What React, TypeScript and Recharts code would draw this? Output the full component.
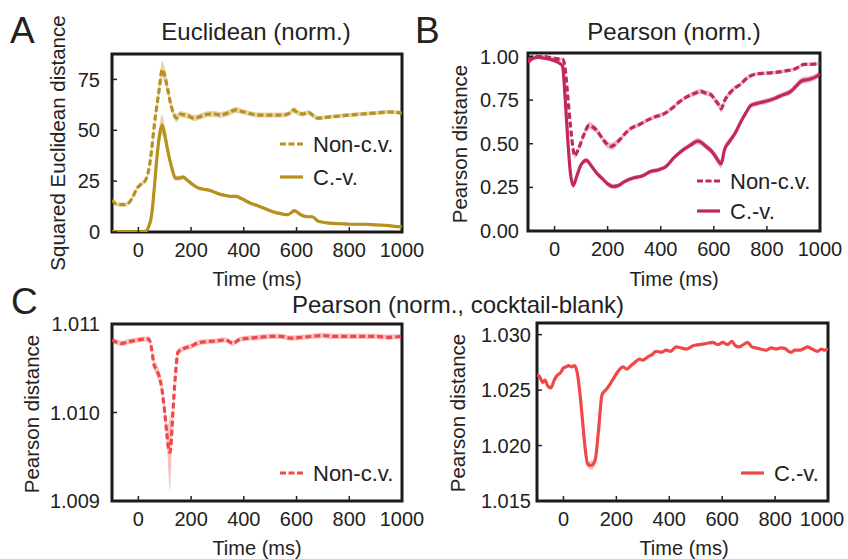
import { ComposedChart, Line, Area, XAxis, YAxis, ReferenceArea } from 'recharts';

const FONT = '"Liberation Sans", Arial, Helvetica, sans-serif';
const INK = '#222';

const GOLD = '#B8901E';
const GOLD_BAND = 'rgba(205,175,95,0.55)';
const CRIMSON = '#C3285A';
const CRIMSON_BAND = 'rgba(215,110,145,0.5)';
const RED = '#F04848';
const RED_BAND = 'rgba(245,140,140,0.55)';

const X_TICKS = [0, 200, 400, 600, 800, 1000];

// A: Euclidean, non-cross-validated
const A_NCV_T = [-100, -85, -70, -50, -35, -20, -5, 10, 25, 40, 50, 60, 70, 80, 90, 100, 110, 120, 130, 145, 160, 175, 190, 210, 230, 250, 270, 290, 310, 340, 370, 400, 430, 460, 490, 520, 550, 575, 590, 605, 625, 645, 665, 680, 720, 760, 800, 850, 900, 950, 1000];
const A_NCV_V = [15.7, 13.8, 13.5, 13.5, 14.5, 17.5, 21.5, 23.5, 25, 31, 40, 52, 62, 71, 80, 77, 71, 64.5, 59.5, 56, 58, 57.5, 57, 56, 56.5, 57.5, 58, 58, 57.5, 58.5, 60, 59, 58, 57.5, 57.5, 57.5, 57.5, 58.5, 60, 58.5, 58, 58.8, 57, 56, 56.5, 57, 57.5, 58, 58.5, 59, 58.5];
const A_NCV_E = [1, 1, 1, 1, 1, 1, 1, 1, 1, 1.5, 2, 2.5, 3, 3.5, 4, 3.5, 3, 2.5, 2, 2, 1.5, 1.5, 1.5, 1.5, 1.5, 1.5, 1.5, 1.5, 1.5, 1.5, 1.5, 1.2, 1.2, 1.2, 1.2, 1.2, 1.2, 1.2, 1.5, 1.2, 1.2, 1.2, 1.2, 1, 1, 1, 1, 1, 1, 1, 1];

// A: Euclidean, cross-validated
const A_CV_T = [-100, -50, 0, 30, 40, 50, 60, 70, 80, 90, 100, 110, 120, 130, 140, 155, 170, 185, 200, 215, 230, 250, 270, 290, 310, 330, 350, 370, 390, 420, 450, 480, 510, 540, 565, 580, 590, 600, 615, 640, 660, 680, 700, 740, 780, 820, 860, 900, 940, 970, 1000];
const A_CV_V = [0.2, 0.2, 0.2, 0.5, 3, 8, 21, 36, 47.5, 52.5, 48, 41, 35, 30, 26.5, 26.5, 27, 25.5, 24, 22.5, 21.5, 21, 20.5, 19.5, 18.5, 18, 17.5, 17.5, 16.5, 14.5, 13, 11.5, 10, 9, 8.5, 9.5, 10.5, 10, 8.5, 7.5, 7.5, 5.5, 4.8, 4.2, 4, 3.8, 3.8, 3.5, 3.3, 2.8, 2.5];
const A_CV_E = [0.2, 0.2, 0.2, 0.3, 0.8, 1.5, 2.5, 3.5, 4.5, 5, 4, 3, 2, 1.5, 1.2, 1.2, 1.2, 1, 1, 0.8, 0.8, 0.8, 0.8, 0.8, 0.8, 0.8, 0.8, 0.8, 0.8, 0.8, 0.8, 0.8, 0.8, 0.8, 0.8, 0.8, 0.8, 0.8, 0.8, 0.8, 0.6, 0.6, 0.6, 0.6, 0.6, 0.6, 0.6, 0.6, 0.6, 0.6, 0.6];

// B: Pearson, non-cross-validated
const B_NCV_T = [-100, -80, -60, -40, -20, 0, 20, 30, 40, 50, 60, 70, 75, 90, 110, 130, 145, 160, 180, 200, 215, 230, 250, 270, 290, 320, 350, 380, 410, 440, 470, 500, 530, 550, 570, 590, 605, 620, 628, 640, 660, 680, 700, 720, 740, 760, 800, 840, 880, 900, 920, 940, 970, 1000];
const B_NCV_V = [0.98, 1.0, 1.0, 1.0, 0.995, 0.99, 0.985, 0.985, 0.93, 0.77, 0.6, 0.47, 0.43, 0.47, 0.55, 0.605, 0.595, 0.575, 0.53, 0.495, 0.485, 0.5, 0.53, 0.565, 0.59, 0.61, 0.635, 0.655, 0.67, 0.7, 0.74, 0.77, 0.79, 0.8, 0.79, 0.78, 0.75, 0.72, 0.7, 0.745, 0.79, 0.82, 0.84, 0.87, 0.89, 0.9, 0.905, 0.91, 0.92, 0.925, 0.94, 0.955, 0.955, 0.962];
const B_NCV_E = [0.008, 0.008, 0.008, 0.008, 0.008, 0.008, 0.008, 0.008, 0.01, 0.012, 0.015, 0.015, 0.015, 0.015, 0.018, 0.02, 0.02, 0.018, 0.018, 0.02, 0.02, 0.018, 0.015, 0.012, 0.012, 0.012, 0.012, 0.012, 0.012, 0.012, 0.012, 0.012, 0.015, 0.015, 0.015, 0.015, 0.018, 0.02, 0.02, 0.018, 0.015, 0.012, 0.012, 0.012, 0.012, 0.01, 0.01, 0.01, 0.01, 0.01, 0.01, 0.01, 0.01, 0.01];

// B: Pearson, cross-validated
const B_CV_T = [-100, -80, -60, -40, -20, 0, 20, 30, 40, 50, 60, 70, 85, 100, 120, 140, 160, 180, 200, 220, 240, 260, 280, 300, 330, 360, 390, 420, 450, 480, 510, 540, 555, 570, 590, 605, 620, 628, 640, 660, 680, 700, 720, 740, 760, 800, 830, 860, 890, 910, 930, 960, 980, 1000];
const B_CV_V = [0.965, 0.99, 0.995, 0.99, 0.985, 0.975, 0.96, 0.945, 0.76, 0.52, 0.33, 0.26, 0.32, 0.38, 0.405, 0.37, 0.33, 0.3, 0.27, 0.255, 0.26, 0.28, 0.295, 0.305, 0.315, 0.34, 0.35, 0.37, 0.42, 0.46, 0.49, 0.515, 0.505, 0.485, 0.46, 0.43, 0.395, 0.385, 0.465, 0.515, 0.56, 0.62, 0.675, 0.72, 0.73, 0.745, 0.76, 0.78, 0.8, 0.83, 0.86, 0.87, 0.88, 0.9];
const B_CV_E = [0.008, 0.008, 0.008, 0.008, 0.008, 0.008, 0.008, 0.01, 0.015, 0.015, 0.015, 0.015, 0.015, 0.015, 0.015, 0.015, 0.012, 0.012, 0.015, 0.015, 0.012, 0.012, 0.012, 0.012, 0.012, 0.012, 0.012, 0.012, 0.012, 0.015, 0.015, 0.018, 0.018, 0.018, 0.02, 0.022, 0.025, 0.025, 0.025, 0.02, 0.018, 0.015, 0.015, 0.015, 0.015, 0.015, 0.015, 0.015, 0.018, 0.018, 0.02, 0.018, 0.018, 0.015];

// C: cocktail-blank, non-cross-validated
const C_NCV_T = [-100, -80, -60, -40, -20, 0, 20, 40, 50, 60, 70, 80, 90, 100, 110, 115, 120, 125, 130, 140, 150, 170, 200, 230, 260, 300, 330, 360, 380, 420, 460, 500, 540, 580, 620, 660, 700, 740, 780, 820, 860, 900, 950, 1000];
const C_NCV_V = [1.01082, 1.01079, 1.01078, 1.0108, 1.01081, 1.01082, 1.01083, 1.01083, 1.01072, 1.01053, 1.01048, 1.0104, 1.01025, 1.01, 1.0097, 1.00958, 1.00955, 1.00968, 1.00995, 1.0104, 1.01068, 1.01072, 1.01075, 1.01079, 1.0108, 1.01081, 1.01082, 1.01078, 1.01082, 1.01084, 1.01085, 1.01086, 1.01086, 1.01084, 1.01085, 1.01086, 1.01087, 1.01086, 1.01086, 1.01086, 1.01086, 1.01086, 1.01085, 1.01086];
const C_NCV_E = [0.00003, 0.00003, 0.00003, 0.00003, 0.00003, 0.00003, 0.00003, 0.00003, 0.00004, 0.00005, 0.00007, 0.00006, 0.00006, 0.0001, 0.00015, 0.0003, 0.00045, 0.0002, 0.0001, 0.00006, 0.00004, 0.00003, 0.00003, 0.00003, 0.00003, 0.00003, 0.00003, 0.00003, 0.00003, 0.00003, 0.00003, 0.00003, 0.00003, 0.00003, 0.00003, 0.00003, 0.00003, 0.00003, 0.00003, 0.00003, 0.00003, 0.00003, 0.00003, 0.00003];

// C: cocktail-blank, cross-validated
const C_CV_T = [-100, -90, -78, -70, -60, -47, -35, -25, -10, 0, 10, 20, 30, 41, 50, 60, 70, 80, 92, 104, 115, 121, 133, 146, 160, 175, 193, 210, 224, 240, 255, 270, 287, 300, 319, 335, 350, 370, 388, 405, 426, 445, 464, 490, 514, 540, 564, 585, 602, 620, 637, 650, 665, 680, 696, 712, 728, 745, 766, 785, 804, 822, 841, 850, 860, 875, 892, 905, 923, 940, 961, 975, 986, 1000];
const C_CV_V = [1.0264, 1.0262, 1.0257, 1.0259, 1.0254, 1.0252, 1.0259, 1.0263, 1.0266, 1.027, 1.0271, 1.0272, 1.0271, 1.0272, 1.0268, 1.0252, 1.0228, 1.0202, 1.0183, 1.0182, 1.0184, 1.0188, 1.0215, 1.0246, 1.025, 1.0255, 1.0262, 1.0268, 1.0271, 1.0269, 1.0272, 1.0275, 1.0278, 1.0277, 1.028, 1.0282, 1.0285, 1.0284, 1.0286, 1.0285, 1.0289, 1.0288, 1.0287, 1.029, 1.0291, 1.0292, 1.0293, 1.0291, 1.0293, 1.0291, 1.0294, 1.029, 1.0289, 1.0291, 1.0293, 1.0289, 1.0288, 1.0287, 1.0286, 1.0288, 1.0287, 1.0288, 1.0287, 1.0285, 1.0284, 1.0286, 1.0286, 1.0287, 1.0289, 1.0287, 1.0285, 1.0287, 1.0286, 1.0287];
const C_CV_E = [0.00008, 0.00008, 0.00008, 0.00008, 0.00008, 0.00008, 0.00008, 0.00008, 0.00008, 0.00008, 0.00008, 0.00008, 0.00008, 0.00008, 0.00008, 0.00008, 0.00012, 0.0002, 0.0003, 0.0004, 0.0004, 0.0003, 0.0002, 0.00015, 0.00015, 0.00015, 0.0001, 0.00008, 0.00008, 0.00008, 0.00008, 0.00008, 0.00008, 0.00008, 0.00008, 0.00008, 0.00008, 0.00008, 0.00008, 0.00008, 0.00008, 0.00008, 0.00008, 0.00008, 0.00008, 0.00008, 0.00008, 0.00008, 0.00008, 0.00008, 0.00008, 0.00008, 0.00008, 0.00008, 0.00008, 0.00008, 0.00008, 0.00008, 0.00008, 0.00008, 0.00008, 0.00008, 0.00008, 0.00008, 0.00008, 0.00008, 0.00008, 0.00008, 0.00008, 0.00008, 0.00008, 0.00008, 0.00008, 0.00008];

type Row = { t: number; v: number; band: [number, number] };
const rows = (t: number[], v: number[], e: number[]): Row[] =>
  t.map((x, i) => ({ t: x, v: v[i], band: [v[i] - e[i], v[i] + e[i]] }));

type Series = { name: string; data: Row[]; color: string; band: string; dashed: boolean };

type PanelProps = {
  box: { x: number; y: number; w: number; h: number };
  yDomain: [number, number];
  yTicks: number[];
  yFmt: (v: number) => string;
  yGap: number;
  lastShift?: number;
  series: Series[];
};

function Panel({ box, yDomain, yTicks, yFmt, yGap, lastShift = 0, series }: PanelProps) {
  const ml = 100, mt = 16, mr = 30, mb = 44;
  const tickStyle = { fontSize: 20, fill: INK, fontFamily: FONT };
  // x tick labels; the last one may sit a little left, as in the source figure
  const xTick = (p: any) => {
    const shift = p.payload.value === 1000 ? lastShift : 0;
    return (
      <text x={p.x + shift} y={p.y} dy="0.71em" textAnchor="middle" fontSize={20} fill={INK} fontFamily={FONT}>
        {p.payload.value}
      </text>
    );
  };
  return (
    <div style={{ position: 'absolute', left: box.x - ml, top: box.y - mt }}>
      <ComposedChart width={box.w + ml + mr} height={box.h + mt + mb} margin={{ top: mt, right: mr, left: 0, bottom: 0 }}>
        <XAxis
          type="number"
          dataKey="t"
          domain={[-100, 1000]}
          ticks={X_TICKS}
          allowDataOverflow
          height={mb}
          axisLine={false}
          tickSize={-5}
          tickMargin={16}
          tickLine={{ stroke: INK, strokeWidth: 1.5 }}
          tick={xTick}
          interval={0}
        />
        <YAxis
          type="number"
          domain={yDomain}
          ticks={yTicks}
          allowDataOverflow
          width={ml}
          axisLine={false}
          tickSize={-5}
          tickMargin={yGap + 5}
          tickLine={{ stroke: INK, strokeWidth: 1.5 }}
          tick={tickStyle}
          tickFormatter={yFmt}
          interval={0}
        />
        {series.map((s) => (
          <Area
            key={s.name + '-band'}
            data={s.data}
            dataKey="band"
            type="monotone"
            stroke="none"
            fill={s.band}
            fillOpacity={1}
            isAnimationActive={false}
          />
        ))}
        {series.map((s) => (
          <Line
            key={s.name}
            data={s.data}
            dataKey="v"
            type="monotone"
            stroke={s.color}
            strokeWidth={3.2}
            strokeDasharray={s.dashed ? '6 3' : undefined}
            dot={false}
            isAnimationActive={false}
          />
        ))}
        <ReferenceArea x1={-100} x2={1000} y1={yDomain[0]} y2={yDomain[1]} fill="none" stroke="#1a1a1a" strokeWidth={3} />
      </ComposedChart>
    </div>
  );
}

function LegendItem({ x, y, label, color, dashed }: { x: number; y: number; label: string; color: string; dashed: boolean }) {
  return (
    <g>
      <line x1={x} x2={x + 23} y1={y} y2={y} stroke={color} strokeWidth={3.2} strokeDasharray={dashed ? '6 2.5' : undefined} />
      <text x={x + 33} y={y + 8} fontSize={22} fill={INK}>{label}</text>
    </g>
  );
}

export default function App() {
  const seriesA: Series[] = [
    { name: 'Non-c.v.', data: rows(A_NCV_T, A_NCV_V, A_NCV_E), color: GOLD, band: GOLD_BAND, dashed: true },
    { name: 'C.-v.', data: rows(A_CV_T, A_CV_V, A_CV_E), color: GOLD, band: GOLD_BAND, dashed: false },
  ];
  const seriesB: Series[] = [
    { name: 'Non-c.v.', data: rows(B_NCV_T, B_NCV_V, B_NCV_E), color: CRIMSON, band: CRIMSON_BAND, dashed: true },
    { name: 'C.-v.', data: rows(B_CV_T, B_CV_V, B_CV_E), color: CRIMSON, band: CRIMSON_BAND, dashed: false },
  ];
  const seriesC1: Series[] = [
    { name: 'Non-c.v.', data: rows(C_NCV_T, C_NCV_V, C_NCV_E), color: RED, band: RED_BAND, dashed: true },
  ];
  const seriesC2: Series[] = [
    { name: 'C.-v.', data: rows(C_CV_T, C_CV_V, C_CV_E), color: RED, band: RED_BAND, dashed: false },
  ];

  return (
    <div style={{ position: 'absolute', left: 0, top: 0, width: 848, height: 559, background: '#fff', fontFamily: FONT }}>
      <Panel box={{ x: 112, y: 54, w: 290, h: 178 }} yDomain={[0, 87.5]} yTicks={[0, 25, 50, 75]} yFmt={(v) => String(v)} yGap={12} series={seriesA} />
      <Panel box={{ x: 528, y: 53, w: 292, h: 178 }} yDomain={[0, 1.02]} yTicks={[0, 0.25, 0.5, 0.75, 1.0]} yFmt={(v) => v.toFixed(2)} yGap={9} series={seriesB} />
      <Panel box={{ x: 112, y: 324, w: 290, h: 177 }} yDomain={[1.009, 1.011]} yTicks={[1.009, 1.01, 1.011]} yFmt={(v) => v.toFixed(3)} yGap={12} series={seriesC1} />
      <Panel box={{ x: 537, y: 323, w: 291, h: 178 }} yDomain={[1.015, 1.03105]} yTicks={[1.015, 1.02, 1.025, 1.03]} yFmt={(v) => v.toFixed(3)} yGap={6} lastShift={-6} series={seriesC2} />

      <svg width={848} height={559} style={{ position: 'absolute', left: 0, top: 0, pointerEvents: 'none' }} fontFamily={FONT}>
        <text x={10} y={43} fontSize={37} fill={INK}>A</text>
        <text x={415} y={43} fontSize={37} fill={INK}>B</text>
        <text x={11} y={314} fontSize={37} fill={INK}>C</text>

        <text x={256} y={40} fontSize={24} fill={INK} textAnchor="middle">Euclidean (norm.)</text>
        <text x={674} y={40} fontSize={24} fill={INK} textAnchor="middle">Pearson (norm.)</text>
        <text x={458} y={313} fontSize={24} fill={INK} textAnchor="middle">Pearson (norm., cocktail-blank)</text>

        <text x={257} y={286} fontSize={20} fill={INK} textAnchor="middle">Time (ms)</text>
        <text x={674} y={286} fontSize={20} fill={INK} textAnchor="middle">Time (ms)</text>
        <text x={257} y={555} fontSize={20} fill={INK} textAnchor="middle">Time (ms)</text>
        <text x={684} y={555} fontSize={20} fill={INK} textAnchor="middle">Time (ms)</text>

        <text x={64.5} y={143} fontSize={20.5} fill={INK} textAnchor="middle" transform="rotate(-90 64.5 143)">Squared Euclidean distance</text>
        <text x={467} y={144} fontSize={20.5} fill={INK} textAnchor="middle" transform="rotate(-90 467 144)">Pearson distance</text>
        <text x={39} y={414} fontSize={20.5} fill={INK} textAnchor="middle" transform="rotate(-90 39 414)">Pearson distance</text>
        <text x={465} y={413} fontSize={20.5} fill={INK} textAnchor="middle" transform="rotate(-90 465 413)">Pearson distance</text>

        <LegendItem x={280} y={144} label="Non-c.v." color={GOLD} dashed />
        <LegendItem x={280} y={177} label="C.-v." color={GOLD} dashed={false} />
        <LegendItem x={697} y={181} label="Non-c.v." color={CRIMSON} dashed />
        <LegendItem x={697} y={211} label="C.-v." color={CRIMSON} dashed={false} />
        <LegendItem x={280} y={473} label="Non-c.v." color={RED} dashed />
        <LegendItem x={741} y={473} label="C.-v." color={RED} dashed={false} />
      </svg>
    </div>
  );
}
